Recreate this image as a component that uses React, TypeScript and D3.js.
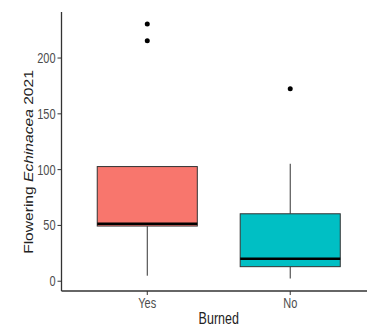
import React, { useEffect, useRef } from "react";
import * as d3 from "d3";

// burned groups
const groups = ["Yes", "No"];
const boxColors = ["#F8766D", "#00BFC4"];
const q1 = [49, 12.6];
const medians = [51, 19.8];
const q3 = [102.3, 60];
const whiskLow = [4.5, 2];
const whiskHigh = [102.3, 104.8];
const outliers = [[230, 215], [172]];
const yTicks = [0, 50, 100, 150, 200];

const FONT = "'Liberation Sans', Arial, sans-serif";
const STRETCH = 1.3; // the picture is stretched vertically

export default function App() {
    const ref = useRef<SVGSVGElement>(null);

    useEffect(() => {
        const svg = d3.select(ref.current);
        svg.selectAll("*").remove();

        const left = 61.5, right = 376, top = 12, bottom = 291;

        const y = d3.scaleLinear().domain([-9.2, 240.8]).range([bottom, top]);
        const x = d3.scaleBand().domain(groups).range([left, right])
            .paddingInner(0).paddingOuter(0.1);
        const boxW = x.bandwidth() * 0.7;

        // y axis
        const ya = svg.append("g")
            .attr("transform", "translate(" + left + ",0)")
            .call(d3.axisLeft(y).tickValues(yTicks).tickSize(4).tickPadding(2));
        ya.select(".domain").remove();
        ya.selectAll(".tick line").attr("stroke", "#333").attr("stroke-width", 1);
        ya.selectAll(".tick text")
            .attr("fill", "#4d4d4d")
            .attr("dy", "0.35em")
            .attr("transform", "scale(1," + STRETCH + ")")
            .style("font-family", FONT)
            .style("font-size", "11px");

        // x axis
        const xa = svg.append("g")
            .attr("transform", "translate(0," + bottom + ")")
            .call(d3.axisBottom(x).tickSize(4).tickPadding(3));
        xa.select(".domain").remove();
        xa.selectAll(".tick line").attr("stroke", "#333");
        xa.selectAll(".tick text")
            .attr("fill", "#4d4d4d")
            .attr("y", 0)
            .attr("dy", 0)
            .attr("transform", "translate(0,16.5) scale(1," + STRETCH + ")")
            .style("font-family", FONT)
            .style("font-size", "11px");

        svg.append("line")
            .attr("x1", left).attr("x2", left).attr("y1", top).attr("y2", bottom)
            .attr("stroke", "#333").attr("stroke-width", 1.3);
        svg.append("line")
            .attr("x1", left).attr("x2", right).attr("y1", bottom).attr("y2", bottom)
            .attr("stroke", "#333").attr("stroke-width", 1.3);

        groups.forEach(function (g, i) {
            const cx = (x(g) as number) + x.bandwidth() / 2;
            const gg = svg.append("g");

            gg.append("line")
                .attr("x1", cx).attr("x2", cx)
                .attr("y1", y(whiskLow[i])).attr("y2", y(q1[i]))
                .attr("stroke", "#333").attr("stroke-width", 1);
            gg.append("line")
                .attr("x1", cx).attr("x2", cx)
                .attr("y1", y(q3[i])).attr("y2", y(whiskHigh[i]))
                .attr("stroke", "#333").attr("stroke-width", 1);

            gg.append("rect")
                .attr("x", cx - boxW / 2)
                .attr("y", y(q3[i]))
                .attr("width", boxW)
                .attr("height", y(q1[i]) - y(q3[i]))
                .attr("fill", boxColors[i])
                .attr("stroke", "#333")
                .attr("stroke-width", 1);

            gg.append("line")
                .attr("x1", cx - boxW / 2).attr("x2", cx + boxW / 2)
                .attr("y1", y(medians[i])).attr("y2", y(medians[i]))
                .attr("stroke", "#000").attr("stroke-width", 2.5);

            gg.selectAll("circle")
                .data(outliers[i])
                .enter()
                .append("circle")
                .attr("cx", cx)
                .attr("cy", function (d) { return y(d) })
                .attr("r", 2.5)
                .attr("fill", "#000");
        });

        svg.append("text")
            .attr("transform", "translate(" + (left + right) / 2 + ",323.5) scale(1," + STRETCH + ")")
            .attr("text-anchor", "middle")
            .attr("fill", "#222")
            .style("font-family", FONT)
            .style("font-size", "12.5px")
            .text("Burned");

        const yl = svg.append("text")
            .attr("transform", "translate(32.5,162) rotate(-90) scale(" + STRETCH + ",1)")
            .attr("text-anchor", "middle")
            .attr("fill", "#222")
            .style("font-family", FONT)
            .style("font-size", "12px");
        yl.append("tspan").text("Flowering ");
        yl.append("tspan").attr("font-style", "italic").text("Echinacea");
        yl.append("tspan").text(" 2021");
    }, []);

    return (
        <svg ref={ref} width={367} height={326}
            style={{ position: "absolute", left: 0, top: 0, background: "#fff" }} />
    );
}
